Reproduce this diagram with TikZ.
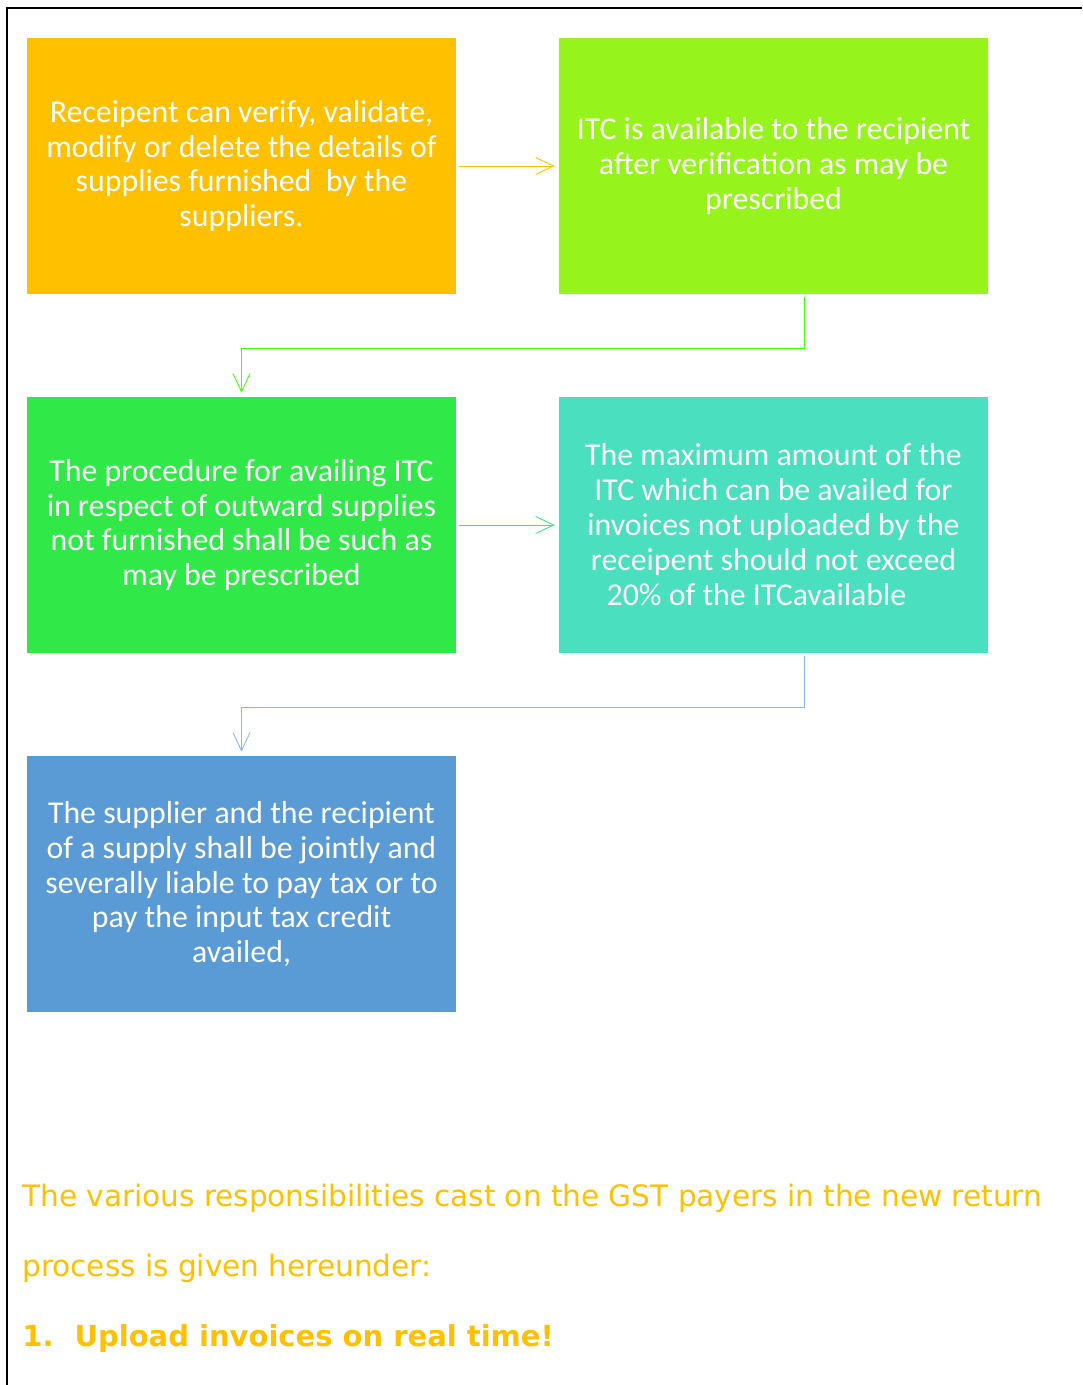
\documentclass[tikz,border=0pt]{standalone}
\usepackage{fontspec}
\setmainfont{Carlito}
\newfontfamily\notefont{DejaVu Sans}
\usepackage{tikz}
\usetikzlibrary{shapes.geometric, arrows.meta}
\definecolor{gstorange}{HTML}{FFC000}
\definecolor{gstlime}{HTML}{96F41C}
\definecolor{gstgreen}{HTML}{31E849}
\definecolor{gstteal}{HTML}{49DFBF}
\definecolor{gstblue}{HTML}{5B9BD5}
\tikzstyle{block} = [rectangle, minimum width=8.58cm, minimum
height=5.12cm, text centered, align=center, text=white, inner sep=0pt,
font=\fontsize{18.1}{19.9}\selectfont]
\tikzstyle{arrow} =
[line width=0.5pt, ->, >={Straight Barb[length=0.36cm, width=0.34cm]},
shorten <=0.06cm, shorten >=0.08cm]
\tikzstyle{note} = [anchor=base west, inner sep=0pt, text=gstorange,
font=\notefont\fontsize{16.8}{20}\selectfont]

\begin{document}
\begin{tikzpicture}[node distance=7.18cm]
\useasboundingbox (0,0) rectangle (21.64,-27.7);
\draw[line width=0.04cm] (0.14,-27.7) -- (0.14,-0.16) -- (21.64,-0.16);

\node(receipt)[block, fill=gstorange] at (4.83,-3.32){Receipent can verify, validate,\\
modify or delete the details of\\ supplies furnished\ \ by the\\ suppliers.};
\node(itc)[block, fill=gstlime, right of=receipt, xshift=3.46cm]{ITC is available to the recipient\\
after verification as may be\\ prescribed};
\node(procedure)[block, fill=gstgreen, below of=receipt]{The procedure for availing ITC\\
in respect of outward supplies\\ not furnished shall be such as\\ may be prescribed};
\node(maximum)[block, fill=gstteal, below of=itc]{The maximum amount of the\\
ITC which can be availed for\\ invoices not uploaded by the\\ receipent should not exceed\\
20\% of the ITCavailable\hspace*{0.68cm}};
\node(joint)[block, fill=gstblue, below of=procedure]{The supplier and the recipient\\
of a supply shall be jointly and\\ severally liable to pay tax or to\\ pay the input tax credit\\ availed,};

\draw[arrow, gstorange](receipt) -- (itc);
\draw[arrow, color=green!55!gstlime]([xshift=0.61cm]itc.south) -- ++(0,-1.08) -| (procedure.north);
\draw[arrow, color=gstgreen!50!gstteal](procedure) -- (maximum);
\draw[arrow, color=gstblue!70]([xshift=0.61cm]maximum.south) -- ++(0,-1.08) -| (joint.north);

\node(intro1)[note] at (0.44,-24.12){The various responsibilities cast on the GST payers in the new return};
\node(intro2)[note] at (0.44,-25.53){process is given hereunder:};
\node(upload)[note, font=\notefont\bfseries\fontsize{16.5}{20}\selectfont] at (0.44,-26.93){1.\hspace{0.42cm}Upload invoices on real time!};

\end{tikzpicture}
\end{document}
